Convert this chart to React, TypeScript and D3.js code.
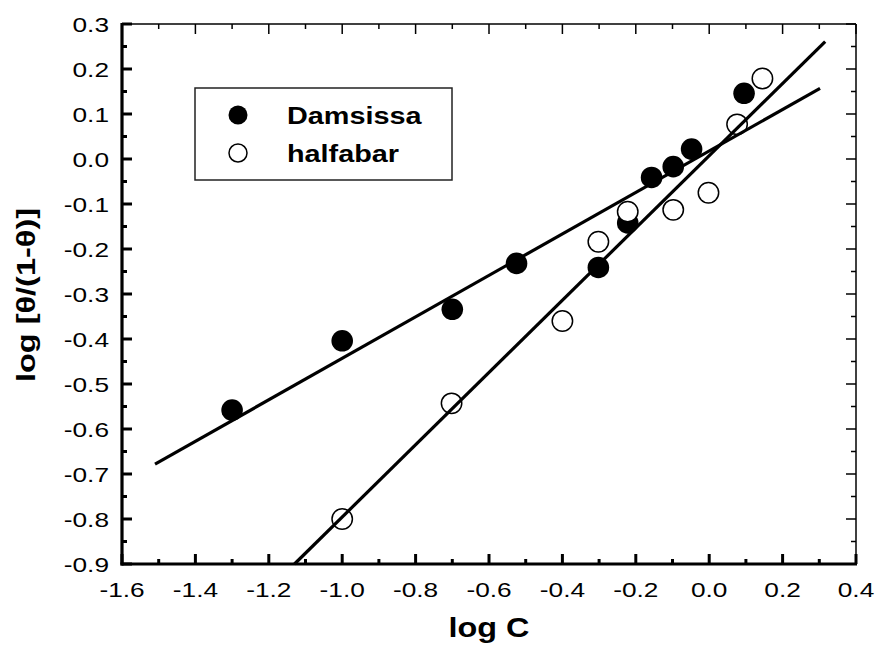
import React from "react";
import * as d3 from "d3";

const damsissaX = [-1.3, -1.0, -0.7, -0.525, -0.302, -0.222, -0.157, -0.098, -0.048, 0.095];
const damsissaY = [-0.558, -0.404, -0.334, -0.232, -0.241, -0.142, -0.041, -0.017, 0.022, 0.146];
const halfabarX = [-1.0, -0.702, -0.4, -0.302, -0.222, -0.098, -0.002, 0.076, 0.145];
const halfabarY = [-0.8, -0.543, -0.36, -0.184, -0.117, -0.113, -0.075, 0.077, 0.179];
const damsissaFitX = [-1.51, 0.302];
const damsissaFitY = [-0.678, 0.157];
const halfabarFitX = [-1.13, 0.316];
const halfabarFitY = [-0.9, 0.261];
const xTicks = [-1.6, -1.4, -1.2, -1.0, -0.8, -0.6, -0.4, -0.2, 0.0, 0.2, 0.4];
const yTicks = [0.3, 0.2, 0.1, 0.0, -0.1, -0.2, -0.3, -0.4, -0.5, -0.6, -0.7, -0.8, -0.9];
const seriesNames = ["Damsissa", "halfabar"];

const W = 875, H = 654;
const L = 122, R = 856, T = 24, B = 564;

export default function App() {
  const x = d3.scaleLinear().domain([-1.6, 0.4]).range([L, R]);
  const y = d3.scaleLinear().domain([-0.9, 0.3]).range([B, T]);
  const xMinor = d3.range(-16, 5).map((v) => v / 10);
  const yMinor = d3.range(-18, 7).map((v) => v / 20);
  const line = d3.line<[number, number]>().x((d) => x(d[0])).y((d) => y(d[1]));
  const fitD = line(damsissaFitX.map((v, i) => [v, damsissaFitY[i]] as [number, number]));
  const fitH = line(halfabarFitX.map((v, i) => [v, halfabarFitY[i]] as [number, number]));
  const font = "'Liberation Sans', Arial, sans-serif";
  const fmt = (v: number) => (Math.abs(v) < 1e-9 ? "0.0" : v.toFixed(1));
  const isMajorX = (v: number) => xTicks.some((t) => Math.abs(t - v) < 1e-9);
  const isMajorY = (v: number) => yTicks.some((t) => Math.abs(t - v) < 1e-9);
  const sx = 1.25;

  return (
    <svg width={W} height={H} style={{ position: "absolute", left: 0, top: 0, background: "#fff" }}>
      <line x1={L} y1={T} x2={R} y2={T} stroke="#000" strokeWidth={1.5} />
      <line x1={R} y1={T} x2={R} y2={B} stroke="#000" strokeWidth={1.5} />
      {xMinor.map((v, i) => {
        const len = isMajorX(v) ? 10 : 5;
        return (
          <g key={"xt" + i}>
            <line x1={x(v)} x2={x(v)} y1={B} y2={B - len} stroke="#000" strokeWidth={3} />
            <line x1={x(v)} x2={x(v)} y1={T} y2={T + len} stroke="#000" strokeWidth={1.5} />
          </g>
        );
      })}
      {yMinor.map((v, i) => {
        const len = isMajorY(v) ? 10 : 5;
        return (
          <g key={"yt" + i}>
            <line x1={L} x2={L + len} y1={y(v)} y2={y(v)} stroke="#000" strokeWidth={3} />
            <line x1={R} x2={R - len} y1={y(v)} y2={y(v)} stroke="#000" strokeWidth={1.5} />
          </g>
        );
      })}
      <line x1={L} y1={T - 1} x2={L} y2={B + 1.5} stroke="#000" strokeWidth={3.2} />
      <line x1={L - 1.5} y1={B} x2={R + 1} y2={B} stroke="#000" strokeWidth={3.2} />
      {xTicks.map((v, i) => (
        <text key={"xl" + i} transform={`translate(${x(v)},${597}) scale(${sx},1)`} textAnchor="middle"
          fontFamily={font} fontSize={21} fill="#000">{fmt(v)}</text>
      ))}
      {yTicks.map((v, i) => (
        <text key={"yl" + i} transform={`translate(${109},${y(v) + 7.5}) scale(${sx},1)`} textAnchor="end"
          fontFamily={font} fontSize={21} fill="#000">{fmt(v)}</text>
      ))}
      <text transform={`translate(489,637) scale(1.2,1)`} textAnchor="middle" fontFamily={font}
        fontSize={27} fontWeight="bold">log C</text>
      <text transform={`translate(35,295) rotate(-90) scale(1.25,1)`} textAnchor="middle" fontFamily={font}
        fontSize={26} fontWeight="bold">log [θ/(1-θ)]</text>
      {damsissaX.map((v, i) => (
        <circle key={"d" + i} cx={x(v)} cy={y(damsissaY[i])} r={10.8} fill="#000" />
      ))}
      {halfabarX.map((v, i) => (
        <circle key={"h" + i} cx={x(v)} cy={y(halfabarY[i])} r={10.2} fill="#fff" stroke="#000" strokeWidth={1.5} />
      ))}
      <path d={fitD ?? ""} fill="none" stroke="#000" strokeWidth={3.2} />
      <path d={fitH ?? ""} fill="none" stroke="#000" strokeWidth={3.2} />
      <rect x={195} y={88} width={257} height={92} fill="#fff" stroke="#222" strokeWidth={1.5} />
      <circle cx={238} cy={115} r={9.5} fill="#000" />
      <circle cx={238} cy={153} r={9} fill="#fff" stroke="#000" strokeWidth={1.5} />
      <text transform={`translate(287,124) scale(1.2,1)`} fontFamily={font} fontSize={24} fontWeight="bold">{seriesNames[0]}</text>
      <text transform={`translate(287,162) scale(1.2,1)`} fontFamily={font} fontSize={24} fontWeight="bold">{seriesNames[1]}</text>
    </svg>
  );
}
